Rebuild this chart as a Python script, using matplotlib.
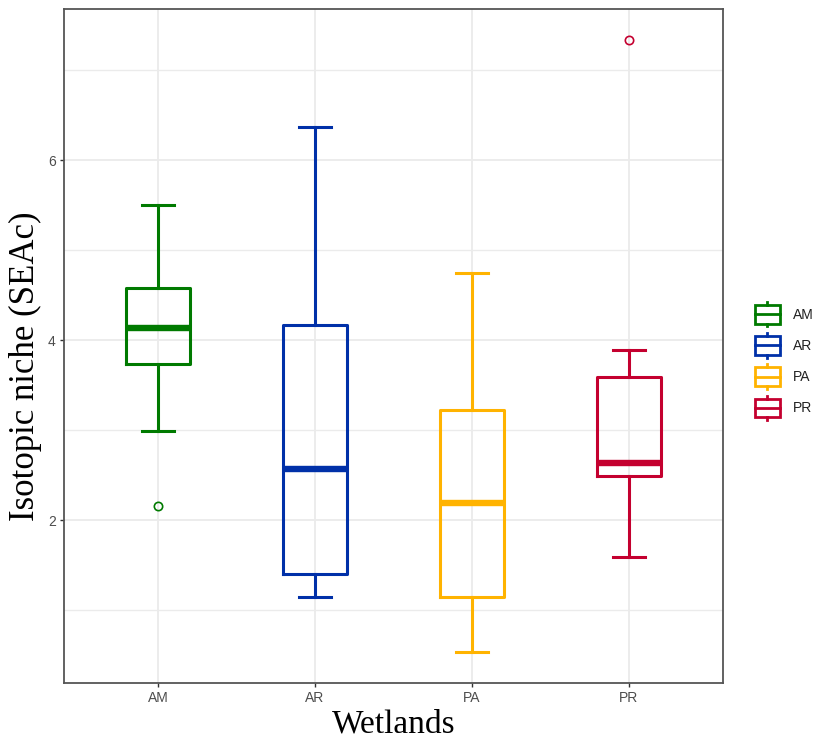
import matplotlib
matplotlib.use("Agg")
import matplotlib.pyplot as plt
from matplotlib.patches import Rectangle
from matplotlib.lines import Line2D
from matplotlib.legend_handler import HandlerBase
from matplotlib.ticker import MultipleLocator

# values
groups = ["AM", "AR", "PA", "PR"]
colors = ["#007A00", "#0030A8", "#FFB300", "#C4002F"]
whislo = [2.99, 1.14, 0.53, 1.59]
q1 = [3.74, 1.40, 1.15, 2.49]
med = [4.14, 2.57, 2.19, 2.63]
q3 = [4.58, 4.17, 3.22, 3.59]
whishi = [5.50, 6.37, 4.75, 3.89]
fliers = [[2.16], [], [], [7.34]]

GRID = "#EBEBEB"
TXT = "#4D4D4D"


class BoxKey(HandlerBase):
    # small boxplot glyph for the legend, ggplot style
    def __init__(self, color):
        super().__init__()
        self.color = color

    def create_artists(self, legend, orig, xd, yd, w, h, fs, trans):
        x0, y0 = -xd, -yd
        cx = x0 + w / 2
        bw = w * 0.92
        lo, hi = y0, y0 + h
        kw = dict(color=self.color, lw=2.0, transform=trans)
        r = Rectangle((cx - bw / 2, lo), bw, hi - lo, fill=False,
                      ec=self.color, lw=2.0, transform=trans)
        m = Line2D([cx - bw / 2, cx + bw / 2], [y0 + h * 0.5] * 2, **kw)
        t = Line2D([cx, cx], [hi, hi + h * 0.15], **kw)
        b = Line2D([cx, cx], [lo - h * 0.15, lo], **kw)
        return [r, m, t, b]


fig = plt.figure(figsize=(8.18, 7.47), dpi=100)
ax = fig.add_axes([0.0782, 0.0857, 0.8057, 0.9023])

pos = list(range(1, len(groups) + 1))
for i, g in enumerate(groups):
    c = colors[i]
    s = dict(label=g, med=med[i], q1=q1[i], q3=q3[i],
             whislo=whislo[i], whishi=whishi[i], fliers=fliers[i])
    ax.bxp([s], positions=[pos[i]], widths=0.41, showfliers=True,
           boxprops=dict(color=c, lw=2.2),
           medianprops=dict(color=c, lw=4.6, solid_capstyle="butt"),
           whiskerprops=dict(color=c, lw=2.2),
           capprops=dict(color=c, lw=2.2),
           capwidths=0.2,
           flierprops=dict(marker="o", mfc="none", mec=c, ms=6, mew=1.2),
           zorder=3)

ax.set_xlim(0.4, 4.6)
ax.set_ylim(0.19, 7.68)
ax.set_xticks(pos)
ax.set_xticklabels(groups)
ax.yaxis.set_major_locator(MultipleLocator(2))
ax.yaxis.set_minor_locator(MultipleLocator(1))
ax.grid(True, which="major", color=GRID, lw=1.3, zorder=0)
ax.grid(True, which="minor", axis="y", color=GRID, lw=1.0, zorder=0)
ax.set_axisbelow(True)
ax.tick_params(axis="both", which="major", length=3, width=1, color="#333333",
               labelsize=10, labelcolor=TXT, pad=3)
ax.tick_params(axis="y", which="minor", length=0)
for lab in ax.get_xticklabels() + ax.get_yticklabels():
    lab.set_family("Liberation Sans")
for sp in ax.spines.values():
    sp.set_color("#555555")
    sp.set_linewidth(1.3)

ax.set_xlabel("Wetlands", family="Liberation Serif", fontsize=24, labelpad=3)
ax.set_ylabel("Isotopic niche (SEAc)", family="Liberation Serif", fontsize=25)
ax.yaxis.set_label_coords(-0.033, 0.47)

handles = [Rectangle((0, 0), 1, 1) for _ in groups]
hmap = {h: BoxKey(c) for h, c in zip(handles, colors)}
leg = fig.legend(handles, groups, handler_map=hmap, loc="center left",
                 bbox_to_anchor=(0.906, 0.5167), frameon=False,
                 prop=dict(family="Liberation Sans", size=10),
                 handlelength=2.0, handleheight=1.7, labelspacing=0.9,
                 handletextpad=0.85)
for t in leg.get_texts():
    t.set_color("#222222")

fig.savefig("out.png", dpi=100)
